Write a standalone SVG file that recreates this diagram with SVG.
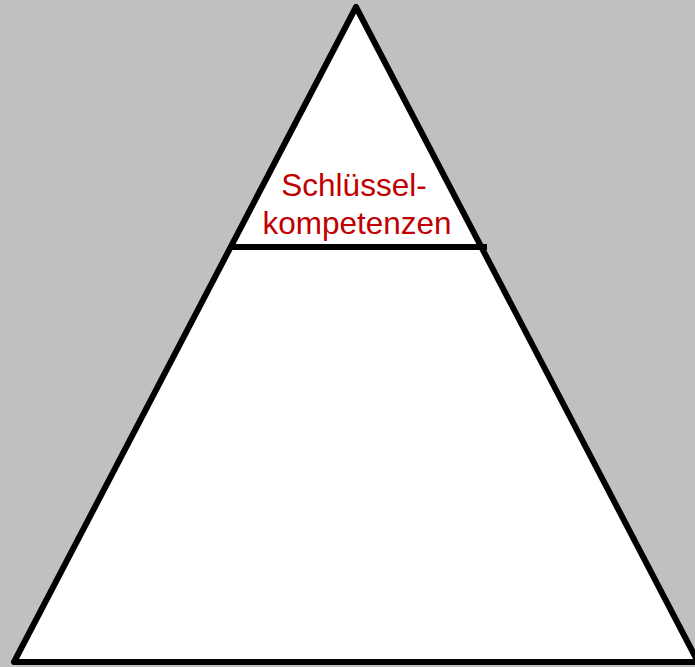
<svg xmlns="http://www.w3.org/2000/svg" width="695" height="667" viewBox="0 0 695 667">
<style>
.ln{stroke:#000;stroke-width:6;fill:none;stroke-linecap:butt}
.lbl{font-family:"Liberation Sans",Arial,sans-serif;font-size:31.5px;fill:#C00000;text-anchor:middle}
</style>
<rect width="695" height="667" fill="#C0C0C0"/>
<g id="pyramid">
<polygon points="356,7 14,662 698,662" fill="#fff" stroke="#000" stroke-width="6" stroke-linejoin="round"/>
</g>
<g id="connectors">
<line class="ln" x1="229" y1="247" x2="487" y2="247"/>
</g>
<g id="top">
<text class="lbl" x="354" y="196">Schlüssel-</text>
<text class="lbl" x="357" y="234">kompetenzen</text>
</g>
</svg>
